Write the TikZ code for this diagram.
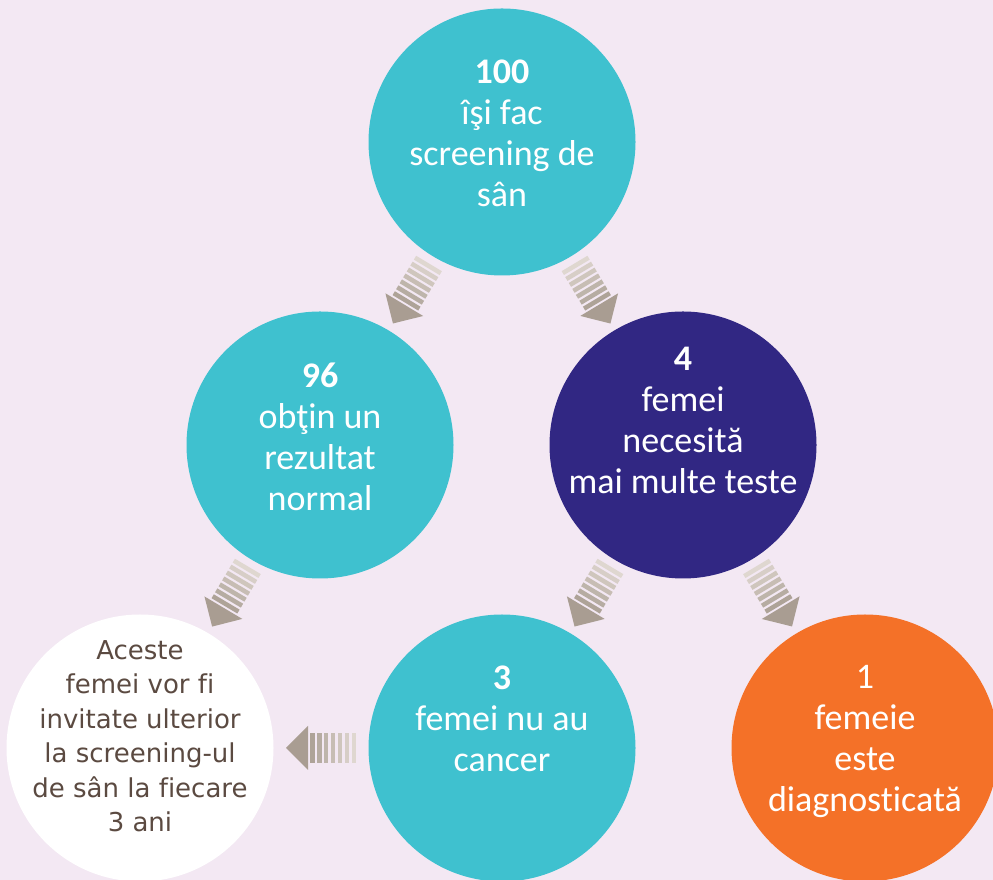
\documentclass[tikz,border=0pt]{standalone}
\usepackage{fontspec}
\setmainfont{Carlito}[Ligatures=NoCommon]
\newfontfamily\notefont{DejaVu Sans}[Ligatures=NoCommon]
\usepackage{xcolor}
\usepackage{tikz}
\usetikzlibrary{shapes,arrows,positioning,calc}

\definecolor{bgpink}{HTML}{F3E8F3}
\definecolor{tealc}{HTML}{3FC1CF}
\definecolor{darkc}{HTML}{312783}
\definecolor{orangec}{HTML}{F47128}
\definecolor{notebrown}{HTML}{5B4A41}
\definecolor{arrowhead}{HTML}{A99D92}
\definecolor{barlight}{HTML}{DFD7D0}
\definecolor{bardark}{HTML}{ACA196}

\tikzset{
  bubble/.style={circle, minimum size=267pt, inner sep=0pt},
  bubtxt/.style={anchor=north, align=center, inner sep=0pt, text=white, font=\fontsize{36}{41}\selectfont},
  notetxt/.style={anchor=north, align=center, inner sep=0pt, text=notebrown, font=\notefont\fontsize{26}{34.5}\selectfont}
}

% striped arrow half way between two circles
\newcommand{\stripearrow}[2]{%
  \pgfmathanglebetweenpoints{\pgfpointanchor{#1}{center}}{\pgfpointanchor{#2}{center}}%
  \edef\arrang{\pgfmathresult}%
  \begin{scope}[shift={($(#1)!0.5!(#2)$)}, rotate=\arrang]
    \foreach \i [evaluate=\i as \mix using int(100-\i*16)] in {0,...,6}
      \fill[barlight!\mix!bardark] (-35+\i*6.9,-15) -- (-30.5+\i*6.9,-15) -- (-30.5+\i*6.9,15) -- (-35+\i*6.9,15) -- cycle;
    \fill[arrowhead] (13,-22) -- (35,0) -- (13,22) -- cycle;
  \end{scope}}

\begin{document}
\begin{tikzpicture}[x=1pt, y=1pt]
\useasboundingbox (0,0) rectangle (993,880);
\clip (0,0) rectangle (993,880);

% Background
\fill[bgpink] (0,0) rectangle (993,880);

% Circles
\node[bubble, fill=tealc] (top) at (502,738) {};
\node[bubble, fill=tealc] (normal) at (320,435) {};
\node[bubble, fill=darkc] (tests) at (683,435) {};
\node[bubble, fill=white] (invite) at (140,132) {};
\node[bubble, fill=tealc] (nocancer) at (502,132) {};
\node[bubble, fill=orangec] (diag) at (865,132) {};

% Texts
\node[bubtxt] (top-t) at ([yshift=82pt]top.center) {\textbf{100}\\îşi fac\\screening de\\sân};
\node[bubtxt] (normal-t) at ([yshift=82pt]normal.center) {\textbf{96}\\obţin un\\rezultat\\normal};
\node[bubtxt] (tests-t) at ([yshift=98pt]tests.center) {\textbf{4}\\femei\\necesită\\mai multe teste};
\node[notetxt] (invite-t) at ([yshift=108pt]invite.center) {Aceste\\femei vor fi\\invitate ulterior\\la screening-ul\\de sân la fiecare\\3 ani};
\node[bubtxt] (nocancer-t) at ([yshift=82pt]nocancer.center) {\textbf{3}\\femei nu au\\cancer};
\node[bubtxt] (diag-t) at ([yshift=83pt]diag.center) {1\\femeie\\este\\diagnosticată};

% Arrows
\stripearrow{top}{normal}
\stripearrow{top}{tests}
\stripearrow{normal}{invite}
\stripearrow{tests}{nocancer}
\stripearrow{tests}{diag}
\stripearrow{nocancer}{invite}
\end{tikzpicture}
\end{document}
